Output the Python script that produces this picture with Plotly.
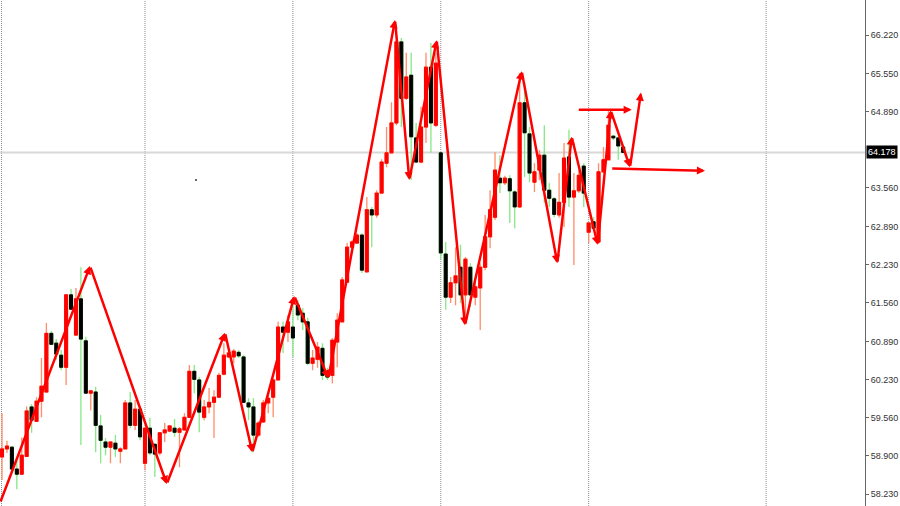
import plotly.graph_objects as go

# OHLC, one value per bar (bar index = position on the x axis)
opens = [
    58.88, 59.02, 59.05, 58.67, 58.58, 58.89, 59.75, 59.50, 59.85, 60.01,
    61.03, 60.86, 60.65, 60.44, 61.70, 61.00, 61.63, 60.90, 59.99, 60.01,
    59.42, 59.14, 59.05, 59.12, 58.98, 59.02, 59.82, 59.43, 59.71, 58.77,
    59.38, 59.10, 58.95, 59.30, 59.33, 59.38, 59.31, 59.35, 59.57, 60.37,
    60.22, 59.57, 59.75, 59.83, 59.92, 60.32, 60.62, 60.62, 60.70, 60.62,
    59.82, 59.75, 59.26, 59.49, 59.82, 59.92, 60.22, 61.14, 61.05, 61.14,
    61.52, 61.38, 61.23, 60.51, 60.58, 60.77, 60.36, 60.30, 60.88, 61.23,
    61.92, 62.53, 62.60, 62.74, 62.10, 63.18, 63.09, 63.47, 63.99, 64.17,
    64.69, 66.10, 65.12, 65.52, 64.43, 64.01, 64.62, 65.66, 64.65, 64.17,
    62.41, 61.66, 61.91, 62.18, 61.70, 62.18, 61.66, 61.82, 62.18, 62.71,
    63.05, 63.73, 63.65, 63.72, 63.49, 63.23, 65.04, 64.50, 63.66, 63.87,
    64.13, 63.52, 63.37, 63.09, 63.31, 64.10, 63.40, 63.51, 63.94, 62.79,
    62.97, 62.62, 63.84, 64.05, 64.46, 64.43, 64.27,
]
highs = [
    59.64, 59.16, 59.07, 58.83, 59.22, 59.76, 59.80, 59.92, 60.60, 61.21,
    61.07, 60.93, 60.74, 61.70, 61.80, 61.82, 62.18, 60.97, 60.03, 60.10,
    59.61, 59.21, 59.14, 59.26, 59.05, 59.87, 60.01, 59.87, 59.76, 59.40,
    59.56, 59.12, 59.31, 59.47, 59.43, 59.54, 59.40, 59.64, 60.48, 60.48,
    60.27, 59.87, 60.08, 60.04, 60.34, 60.86, 60.74, 60.76, 60.74, 60.65,
    59.90, 59.90, 59.50, 59.87, 59.96, 60.25, 61.23, 61.23, 61.35, 61.63,
    61.61, 61.47, 61.30, 60.74, 60.88, 60.86, 60.43, 60.95, 61.38, 62.01,
    62.60, 62.65, 62.77, 62.77, 63.40, 63.23, 63.52, 64.06, 64.62, 65.05,
    66.13, 66.17, 65.91, 65.91, 64.69, 64.97, 65.91, 66.08, 65.91, 64.18,
    62.62, 62.01, 62.53, 62.57, 62.36, 62.25, 61.96, 62.25, 63.09, 63.52,
    64.18, 64.13, 63.77, 63.78, 63.52, 65.56, 65.39, 64.62, 63.99, 64.22,
    64.65, 63.65, 63.40, 63.82, 64.34, 64.57, 63.82, 63.87, 63.99, 62.95,
    63.05, 63.99, 64.27, 64.92, 64.48, 64.45, 64.29,
]
lows = [
    58.48, 58.95, 58.65, 58.32, 58.58, 58.88, 59.30, 59.49, 59.57, 60.01,
    60.83, 60.57, 60.39, 60.13, 61.44, 61.00, 59.09, 59.99, 59.69, 58.96,
    58.77, 58.91, 58.77, 58.88, 58.77, 59.02, 59.38, 59.35, 59.17, 58.65,
    58.91, 58.53, 58.91, 59.14, 59.31, 59.23, 58.70, 59.33, 59.57, 59.99,
    59.31, 59.52, 59.64, 59.21, 59.90, 60.30, 60.60, 60.51, 60.60, 59.82,
    59.52, 58.96, 59.23, 59.47, 59.64, 59.57, 60.22, 60.69, 60.88, 60.62,
    61.26, 61.09, 60.48, 60.39, 60.43, 60.22, 60.22, 60.16, 60.44, 61.23,
    61.92, 62.48, 62.60, 62.08, 62.10, 62.53, 63.04, 63.47, 63.92, 64.17,
    64.65, 64.62, 65.09, 63.70, 63.99, 63.99, 64.34, 64.17, 64.62, 62.31,
    61.44, 61.56, 61.52, 61.56, 61.21, 61.49, 61.52, 61.09, 62.13, 62.51,
    63.00, 63.47, 63.61, 62.95, 62.86, 63.21, 63.75, 63.66, 63.49, 63.70,
    63.30, 63.23, 63.05, 63.04, 62.88, 63.23, 62.22, 63.47, 63.23, 62.60,
    62.83, 62.60, 63.82, 64.05, 64.39, 64.05, 64.17,
]
closes = [
    59.02, 59.07, 58.67, 58.58, 58.91, 59.68, 59.52, 59.85, 60.11, 61.03,
    60.84, 60.67, 60.44, 61.70, 61.45, 61.63, 60.93, 59.99, 60.03, 59.43,
    59.17, 59.05, 59.14, 59.02, 59.02, 59.82, 59.43, 59.71, 59.23, 59.38,
    58.95, 58.93, 59.30, 59.35, 59.42, 59.31, 59.37, 59.57, 60.37, 60.23,
    59.66, 59.75, 59.83, 59.92, 60.30, 60.65, 60.69, 60.72, 60.64, 59.83,
    59.75, 59.26, 59.47, 59.82, 59.90, 60.22, 61.14, 61.05, 61.23, 60.95,
    61.35, 61.23, 60.51, 60.60, 60.79, 60.30, 60.27, 60.91, 61.26, 61.96,
    62.53, 62.62, 62.74, 62.13, 63.18, 63.09, 63.47, 64.01, 64.17, 64.69,
    66.10, 65.12, 65.49, 64.45, 64.01, 64.62, 65.66, 64.69, 65.73, 62.43,
    61.66, 61.91, 62.03, 61.70, 62.32, 61.70, 61.84, 62.18, 62.71, 63.18,
    63.87, 63.65, 63.73, 63.51, 63.23, 65.04, 64.52, 63.82, 63.84, 64.13,
    63.52, 63.38, 63.10, 63.31, 64.08, 63.40, 63.51, 63.78, 63.47, 62.95,
    62.86, 63.84, 64.05, 64.65, 64.43, 64.29, 64.178,
]
bars = list(range(len(opens)))

# zigzag vertices (bar index, price); each leg ends with an arrow head
zz_bar = [-0.41, 17.85, 33.41, 45.23, 50.77, 59.29, 66.19, 79.72, 82.62,
          88.17, 93.91, 105.42, 112.64, 115.56, 120.83, 123.47, 127.38, 129.61]
zz_price = [58.08, 62.20, 58.41, 61.04, 58.96, 61.68, 60.25, 66.48, 63.70,
            66.13, 61.17, 65.59, 62.25, 64.45, 62.57, 64.91, 63.92, 65.22]

# the two horizontal level arrows
lvl_from_bar = [116.69, 123.47]
lvl_to_bar = [127.73, 142.6]
lvl_from_price = [64.92, 63.90]
lvl_to_price = [64.92, 63.86]

grid_bars = [-0.1, 29, 59, 89, 119, 155]
y_ticks = [66.22, 65.55, 64.89, 63.56, 62.89, 62.23, 61.56, 60.89, 60.23, 59.56, 58.90, 58.23]
last_price = 64.178
dot_bar, dot_price = 39.35, 63.70

BULL, BEAR = "#FF0000", "#000000"
BULL_WICK, BEAR_WICK = "#FF8C6A", "#86E886"
RED = "#FF0000"
FONT = "Liberation Sans"

fig = go.Figure()

# wicks
fig.add_trace(go.Candlestick(
    x=bars, open=opens, high=highs, low=lows, close=closes,
    increasing=dict(line=dict(color=BULL_WICK, width=1.3), fillcolor=BULL_WICK),
    decreasing=dict(line=dict(color=BEAR_WICK, width=1.3), fillcolor=BEAR_WICK),
    whiskerwidth=0, hoverinfo="skip", showlegend=False,
))
# bodies on top
body_hi = [max(o, c) for o, c in zip(opens, closes)]
body_lo = [min(o, c) for o, c in zip(opens, closes)]
fig.add_trace(go.Candlestick(
    x=bars, open=opens, high=body_hi, low=body_lo, close=closes,
    increasing=dict(line=dict(color=BULL, width=1), fillcolor=BULL),
    decreasing=dict(line=dict(color=BEAR, width=1), fillcolor=BEAR),
    whiskerwidth=0, hoverinfo="skip", showlegend=False,
))

fig.add_trace(go.Scatter(x=[dot_bar], y=[dot_price], mode="markers",
                         marker=dict(size=2, color="#333333"), hoverinfo="skip", showlegend=False))

for g in grid_bars:
    fig.add_shape(type="line", x0=g, x1=g, y0=0, y1=1, yref="paper",
                  line=dict(color="#8A8A8A", width=1, dash="1px,1px"), layer="below")

fig.add_shape(type="line", xref="paper", x0=0, x1=1, y0=last_price, y1=last_price,
              line=dict(color="#D8D8D8", width=2), layer="below")

for k in range(1, len(zz_bar)):
    fig.add_annotation(x=zz_bar[k], y=zz_price[k], ax=zz_bar[k - 1], ay=zz_price[k - 1],
                       xref="x", yref="y", axref="x", ayref="y", text="",
                       showarrow=True, arrowhead=2, arrowsize=0.65, arrowwidth=2.5,
                       arrowcolor=RED)

for fb, tb, fp, tp in zip(lvl_from_bar, lvl_to_bar, lvl_from_price, lvl_to_price):
    fig.add_annotation(x=tb, y=tp, ax=fb, ay=fp,
                       xref="x", yref="y", axref="x", ayref="y", text="",
                       showarrow=True, arrowhead=2, arrowsize=0.65, arrowwidth=2.5,
                       arrowcolor=RED)

fig.add_annotation(xref="paper", x=1, y=last_price, yref="y", text=f"{last_price:.3f}",
                   showarrow=False, xanchor="left", xshift=1, bgcolor="#000000",
                   borderpad=1, font=dict(color="#FFFFFF", size=9, family=FONT))

fig.update_layout(
    template="none",
    width=900, height=506,
    margin=dict(l=0, r=35, t=0, b=0),
    paper_bgcolor="white", plot_bgcolor="white",
    showlegend=False,
    boxgap=0.4, boxgroupgap=0,
    xaxis=dict(range=[-0.41, 175.05], showgrid=False, zeroline=False,
               showticklabels=False, ticks="", showline=False,
               rangeslider=dict(visible=False)),
    yaxis=dict(range=[58.027, 66.829], side="right", tickvals=y_ticks,
               ticktext=[f"{v:.3f}" for v in y_ticks], ticks="outside", ticklen=3,
               tickcolor="#666666", showline=True, linecolor="#666666", linewidth=1,
               showgrid=False, zeroline=False, automargin=False,
               tickfont=dict(size=9, color="#333333", family=FONT)),
)

# page has a default body margin; drop it so the chart sits at the window corner
fig.write_html("out.html", config={"displayModeBar": False},
               post_script="document.body.style.margin='0';")
